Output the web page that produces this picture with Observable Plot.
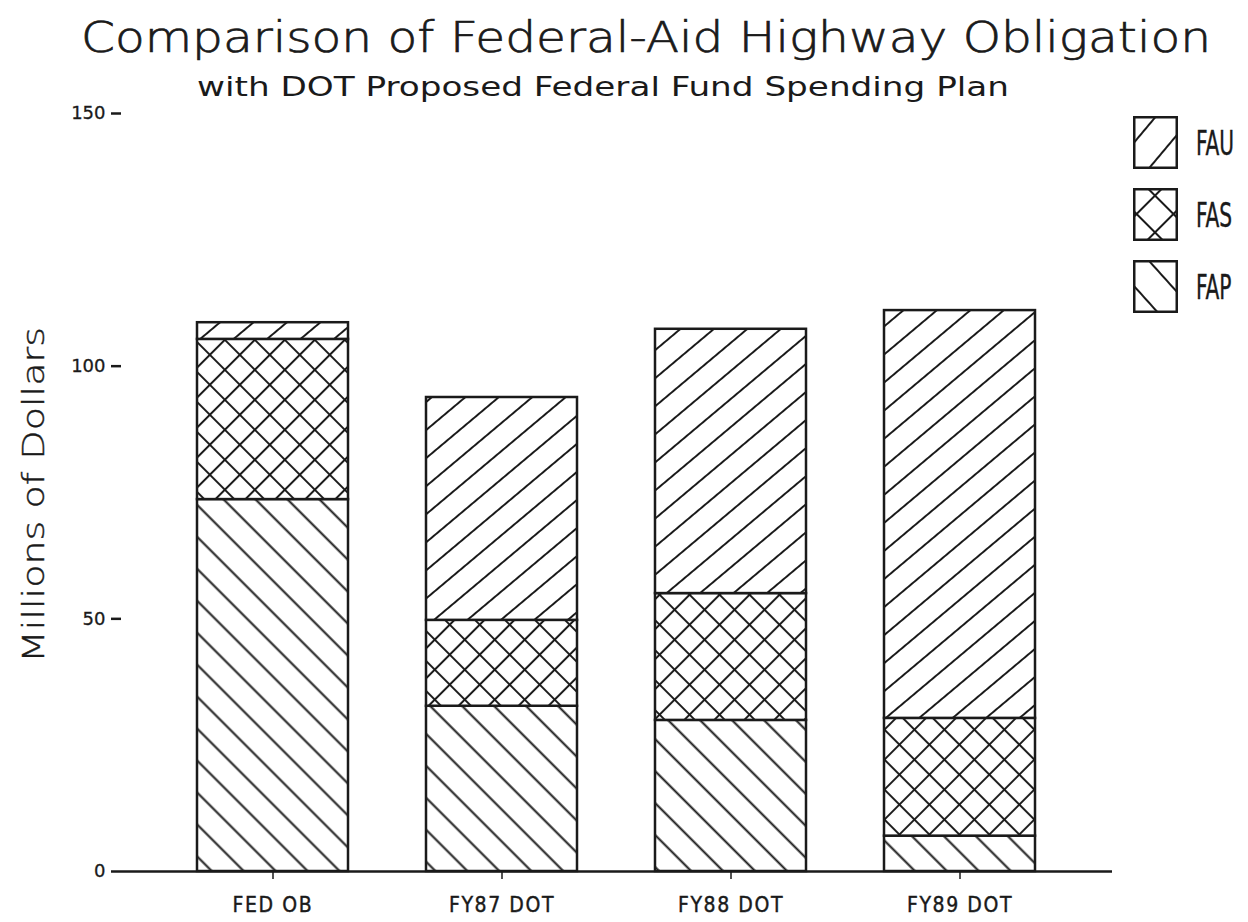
<!DOCTYPE html>
<html>
<head>
<meta charset="utf-8">
<script src="https://cdn.jsdelivr.net/npm/d3@7"></script>
<script src="https://cdn.jsdelivr.net/npm/@observablehq/plot@0.6"></script>
<style>
  html, body { margin: 0; padding: 0; background: #fff; }
  body { width: 1248px; height: 922px; overflow: hidden; position: relative; font-family: "DejaVu Sans", sans-serif; color: #1a1a1a; }
  #header { position: absolute; left: 0; top: 0; overflow: visible; }
  #ylabel { position: absolute; left: 0; top: 100px; overflow: visible; }
  #chart { position: absolute; left: 0; top: 100px; }
  #legend { position: absolute; left: 1133px; top: 116px; overflow: visible; }
  #chart svg g[aria-label="x-axis tick label"] text { font-family: "DejaVu Sans Condensed", "DejaVu Sans", sans-serif; letter-spacing: 1.6px; stroke: #1a1a1a; stroke-width: 0.4px; }
  #chart svg g[aria-label="y-axis tick label"] text { stroke: #1a1a1a; stroke-width: 0.3px; }
</style>
</head>
<body>
<svg width="0" height="0" style="position:absolute">
  <defs>
    <pattern id="pat-FAU" patternUnits="userSpaceOnUse" width="21.5" height="21.5" patternTransform="rotate(-40)">
      <rect width="21.5" height="21.5" fill="#fff"/>
      <line x1="-1" y1="10.75" x2="22.5" y2="10.75" stroke="#1a1a1a" stroke-width="2"/>
    </pattern>
    <pattern id="pat-FAS" patternUnits="userSpaceOnUse" width="21.2" height="21.2" patternTransform="rotate(45)">
      <rect width="21.2" height="21.2" fill="#fff"/>
      <line x1="-1" y1="10.6" x2="22.2" y2="10.6" stroke="#1a1a1a" stroke-width="2"/>
      <line x1="10.6" y1="-1" x2="10.6" y2="22.2" stroke="#1a1a1a" stroke-width="2"/>
    </pattern>
    <pattern id="pat-FAP" patternUnits="userSpaceOnUse" width="22.6" height="22.6" patternTransform="rotate(45)">
      <rect width="22.6" height="22.6" fill="#fff"/>
      <line x1="-1" y1="11.3" x2="23.6" y2="11.3" stroke="#1a1a1a" stroke-width="2"/>
    </pattern>
    <!-- coarser versions for the legend swatches -->
    <pattern id="leg-FAU" patternUnits="userSpaceOnUse" width="28" height="28" patternTransform="translate(0,6) rotate(-50)">
      <rect width="28" height="28" fill="#fff"/>
      <line x1="-1" y1="14" x2="29" y2="14" stroke="#1a1a1a" stroke-width="2"/>
    </pattern>
    <pattern id="leg-FAS" patternUnits="userSpaceOnUse" width="26" height="26" patternTransform="translate(22,26) rotate(45)">
      <rect width="26" height="26" fill="#fff"/>
      <line x1="-1" y1="13" x2="27" y2="13" stroke="#1a1a1a" stroke-width="2"/>
      <line x1="13" y1="-1" x2="13" y2="27" stroke="#1a1a1a" stroke-width="2"/>
    </pattern>
    <pattern id="leg-FAP" patternUnits="userSpaceOnUse" width="28" height="28" patternTransform="translate(0,4) rotate(48)">
      <rect width="28" height="28" fill="#fff"/>
      <line x1="-1" y1="14" x2="29" y2="14" stroke="#1a1a1a" stroke-width="2"/>
    </pattern>
  </defs>
</svg>

<svg id="header" width="1248" height="100">
  <text x="646" y="52" text-anchor="middle" font-size="42" font-weight="200" fill="#1a1a1a"
        stroke="#1a1a1a" stroke-width="0.7"
        textLength="1130" lengthAdjust="spacingAndGlyphs">Comparison of Federal-Aid Highway Obligation</text>
  <text x="603" y="96" text-anchor="middle" font-size="26" fill="#1a1a1a"
        font-family="DejaVu Sans Condensed, DejaVu Sans, sans-serif"
        textLength="812" lengthAdjust="spacingAndGlyphs">with DOT Proposed Federal Fund Spending Plan</text>
</svg>

<div id="chart"></div>
<svg id="ylabel" width="80" height="822"></svg>
<svg id="legend" width="112" height="200"></svg>

<script>
// ---- data (millions of dollars) ----
const categories = ["FED OB", "FY87 DOT", "FY88 DOT", "FY89 DOT"];
const seriesNames = ["FAP", "FAS", "FAU"];           // stacked bottom → top
const legendOrder = ["FAU", "FAS", "FAP"];            // legend top → bottom
const fapValues = [73.6, 32.7, 29.9, 7.0];
const fasValues = [31.7, 17.0, 25.1, 23.3];
const fauValues = [3.3, 44.1, 52.3, 80.7];
const yTicks = [0, 50, 100, 150];
const yLabel = "Millions of Dollars";

const valuesBySeries = { FAP: fapValues, FAS: fasValues, FAU: fauValues };
const rows = seriesNames.flatMap(s =>
  categories.map((c, i) => ({ category: c, series: s, value: valuesBySeries[s][i] }))
);

const ink = "#1a1a1a";

const chart = Plot.plot({
  width: 1248,
  height: 822,
  marginTop: 13,
  marginBottom: 51,
  marginLeft: 121,
  marginRight: 136,
  style: { background: "transparent", color: ink, fontFamily: "DejaVu Sans, sans-serif", overflow: "visible" },
  x: { domain: categories, paddingInner: 0.34, paddingOuter: 0.33, label: null },
  y: { domain: [0, 150], label: null },
  color: { type: "identity" },
  marks: [
    Plot.barY(rows, Plot.stackY({
      x: "category",
      y: "value",
      z: "series",
      fill: d => `url(#pat-${d.series})`,
      stroke: ink,
      strokeWidth: 2.5
    })),
    Plot.ruleY([0], { stroke: ink, strokeWidth: 2.5 }),
    Plot.axisY({
      ticks: yTicks,
      tickSize: 10,
      tickPadding: 6,
      strokeWidth: 2.5,
      fontSize: 18,
      line: true,
      label: null
    }),
    Plot.axisX({
      tickSize: 8,
      tickPadding: 18,
      strokeWidth: 1.5,
      fontSize: 21,
      label: null
    })
  ]
});
document.getElementById("chart").appendChild(chart);

// rotated y-axis title, centred on the y scale's middle
const ys = chart.scale("y");
const yMid = (ys.range[0] + ys.range[1]) / 2 + 3;
d3.select("#ylabel").append("text")
  .attr("transform", `translate(44,${yMid}) rotate(-90)`)
  .attr("text-anchor", "middle")
  .attr("font-size", 31)
  .attr("font-weight", 200)
  .attr("fill", ink)
  .attr("stroke", ink)
  .attr("stroke-width", 0.4)
  .attr("textLength", 336)
  .attr("lengthAdjust", "spacingAndGlyphs")
  .text(yLabel);

// legend (swatch + label per series)
const legend = d3.select("#legend");
legendOrder.forEach((s, i) => {
  const g = legend.append("g").attr("transform", `translate(0,${i * 72})`);
  g.append("rect").attr("x", 1.25).attr("y", 1.25).attr("width", 42.5).attr("height", 50.5)
     .attr("fill", `url(#leg-${s})`).attr("stroke", ink).attr("stroke-width", 2.5);
  g.append("text").attr("transform", "translate(63,39) scale(0.68,1)")
     .attr("font-size", 33)
     .attr("font-family", "DejaVu Sans Condensed, DejaVu Sans, sans-serif")
     .attr("fill", ink).attr("stroke", ink).attr("stroke-width", 0.4)
     .text(s);
});
</script>
</body>
</html>
